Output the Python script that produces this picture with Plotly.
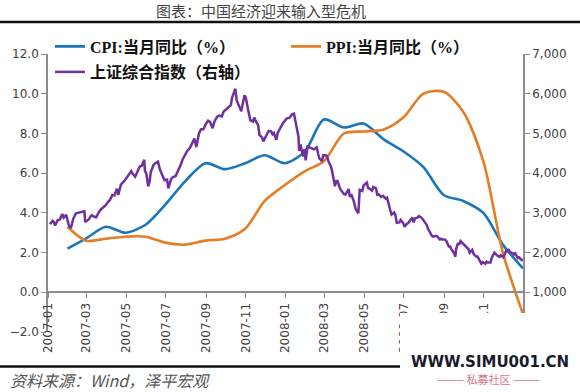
import plotly.graph_objects as go

# ---------------- data ----------------
months = ["2007-01-31","2007-02-28","2007-03-31","2007-04-30","2007-05-31","2007-06-30",
          "2007-07-31","2007-08-31","2007-09-30","2007-10-31","2007-11-30","2007-12-31",
          "2008-01-31","2008-02-29","2008-03-31","2008-04-30","2008-05-31","2008-06-30",
          "2008-07-31","2008-08-31","2008-09-30","2008-10-31","2008-11-30","2008-12-31"]
cpi = [2.2, 2.7, 3.3, 3.0, 3.4, 4.4, 5.6, 6.5, 6.2, 6.5, 6.9, 6.5,
       7.1, 8.7, 8.3, 8.5, 7.7, 7.1, 6.3, 4.9, 4.6, 4.0, 2.4, 1.2]
ppi = [3.3, 2.6, 2.7, 2.8, 2.8, 2.5, 2.4, 2.6, 2.7, 3.2, 4.6, 5.4,
       6.1, 6.6, 8.0, 8.1, 8.2, 8.8, 10.0, 10.1, 9.1, 6.6, 2.0, -1.1]

sh_dates = [
 "2007-01-04","2007-01-08","2007-01-10","2007-01-12","2007-01-16","2007-01-19","2007-01-23","2007-01-25",
 "2007-01-29","2007-01-31","2007-02-02","2007-02-05","2007-02-07","2007-02-09","2007-02-13","2007-02-16",
 "2007-02-26","2007-02-27","2007-03-01","2007-03-05","2007-03-07","2007-03-09","2007-03-13","2007-03-16",
 "2007-03-20","2007-03-23","2007-03-27","2007-03-30","2007-04-04","2007-04-06","2007-04-10","2007-04-13",
 "2007-04-17","2007-04-19","2007-04-23","2007-04-27","2007-04-30","2007-05-09","2007-05-11","2007-05-15",
 "2007-05-18","2007-05-22","2007-05-25","2007-05-29","2007-05-30","2007-06-01","2007-06-04","2007-06-06",
 "2007-06-08","2007-06-12","2007-06-15","2007-06-19","2007-06-22","2007-06-26","2007-06-29","2007-07-03",
 "2007-07-05","2007-07-09","2007-07-12","2007-07-16","2007-07-20","2007-07-24","2007-07-27","2007-07-31",
 "2007-08-03","2007-08-07","2007-08-10","2007-08-14","2007-08-17","2007-08-21","2007-08-24","2007-08-28",
 "2007-08-31","2007-09-04","2007-09-07","2007-09-11","2007-09-14","2007-09-18","2007-09-21","2007-09-25",
 "2007-09-28","2007-10-09","2007-10-11","2007-10-16","2007-10-18","2007-10-22","2007-10-25","2007-10-30",
 "2007-11-01","2007-11-05","2007-11-08","2007-11-12","2007-11-14","2007-11-16","2007-11-20","2007-11-22",
 "2007-11-26","2007-11-28","2007-11-30","2007-12-04","2007-12-06","2007-12-10","2007-12-12","2007-12-14",
 "2007-12-18","2007-12-20","2007-12-24","2007-12-26","2007-12-28",
 "2008-01-03","2008-01-07","2008-01-09","2008-01-11","2008-01-14","2008-01-16","2008-01-18","2008-01-21",
 "2008-01-22","2008-01-24","2008-01-28","2008-01-30","2008-02-01","2008-02-04","2008-02-14","2008-02-18",
 "2008-02-20","2008-02-22","2008-02-26","2008-02-28","2008-03-03","2008-03-05","2008-03-07","2008-03-11",
 "2008-03-13","2008-03-17","2008-03-19","2008-03-21","2008-03-25","2008-03-27","2008-03-31","2008-04-02",
 "2008-04-07","2008-04-09","2008-04-11","2008-04-15","2008-04-18","2008-04-22","2008-04-24","2008-04-28",
 "2008-04-30","2008-05-05","2008-05-07","2008-05-09","2008-05-13","2008-05-15","2008-05-19","2008-05-21",
 "2008-05-23","2008-05-27","2008-05-30","2008-06-03","2008-06-05","2008-06-10","2008-06-12","2008-06-16",
 "2008-06-18","2008-06-20","2008-06-24","2008-06-26","2008-06-30","2008-07-02","2008-07-04","2008-07-08",
 "2008-07-10","2008-07-14","2008-07-16","2008-07-18","2008-07-22","2008-07-24","2008-07-28","2008-07-30",
 "2008-08-01","2008-08-05","2008-08-07","2008-08-11","2008-08-13","2008-08-15","2008-08-19","2008-08-21",
 "2008-08-25","2008-08-27","2008-08-29","2008-09-02","2008-09-04","2008-09-08","2008-09-10","2008-09-12",
 "2008-09-16","2008-09-18","2008-09-19","2008-09-22","2008-09-24","2008-09-26","2008-10-08","2008-10-10",
 "2008-10-14","2008-10-16","2008-10-20","2008-10-22","2008-10-24","2008-10-28","2008-10-30","2008-11-03",
 "2008-11-05","2008-11-07","2008-11-11","2008-11-13","2008-11-17","2008-11-19","2008-11-21","2008-11-25",
 "2008-11-27","2008-12-01","2008-12-03","2008-12-05","2008-12-09","2008-12-11","2008-12-15","2008-12-17",
 "2008-12-19","2008-12-23","2008-12-25","2008-12-29","2008-12-31"]
sh_index = [
 2715, 2800, 2770, 2680, 2820, 2830, 2970, 2880,
 2950, 2790, 2680, 2612, 2750, 2860, 2990, 2998,
 3040, 2772, 2800, 2840, 2900, 2940, 2900, 2890,
 3010, 3080, 3140, 3180, 3290, 3320, 3450, 3440,
 3610, 3450, 3710, 3780, 3840, 4050, 3990, 3910,
 4030, 4170, 4180, 4335, 4050, 4000, 3670, 3770,
 4030, 4200, 4250, 4290, 4090, 3940, 3820, 3840,
 3615, 3850, 3900, 3920, 4060, 4210, 4350, 4470,
 4560, 4630, 4750, 4870, 4660, 5000, 5100, 5110,
 5220, 5320, 5290, 5130, 5310, 5420, 5450, 5430,
 5550, 5710, 5910, 6124, 5830, 5670, 5560, 5960,
 5900, 5560, 5330, 5300, 5400, 5320, 5210, 4960,
 4900, 4800, 4870, 5000, 5060, 5050, 4980, 5010,
 4840, 5010, 5150, 5220, 5260,
 5380, 5390, 5440, 5480, 5497, 5300, 5180, 4914,
 4560, 4720, 4420, 4600, 4320, 4670, 4600, 4650,
 4500, 4370, 4300, 4450, 4450, 4420, 4300, 4160,
 4020, 3670, 3800, 3800, 3600, 3560, 3470, 3460,
 3600, 3400, 3470, 3290, 3090, 2990, 3580, 3550,
 3690, 3761, 3630, 3610, 3560, 3650, 3620, 3460,
 3470, 3400, 3430, 3360, 3380, 3070, 2957, 3010,
 2940, 2748, 2760, 2820, 2740, 2650, 2700, 2750,
 2800, 2880, 2760, 2860, 2880, 2920, 2880, 2830,
 2770, 2700, 2600, 2470, 2420, 2400, 2420, 2410,
 2330, 2350, 2330, 2330, 2300, 2150, 2150, 2080,
 1990, 1895, 2075, 2240, 2200, 2290, 2090, 2000,
 2070, 1970, 1900, 1900, 1830, 1720, 1760, 1720,
 1770, 1750, 1750, 1870, 2000, 1960, 1930, 1890,
 1930, 1880, 1950, 2040, 2070, 2010, 1990, 1950,
 1980, 1860, 1880, 1810, 1820]

tick_dates = ["2007-01-01","2007-03-01","2007-05-01","2007-07-01","2007-09-01","2007-11-01",
              "2008-01-01","2008-03-01","2008-05-01","2008-07-01","2008-09-01","2008-11-01"]
tick_labels = ["2007-01","2007-03","2007-05","2007-07","2007-09","2007-11",
               "2008-01","2008-03","2008-05","2008-07","2008-09","2008-11"]
left_ticks = [-2, 0, 2, 4, 6, 8, 10, 12]
right_ticks = [1000, 2000, 3000, 4000, 5000, 6000, 7000]

title_text = "图表：中国经济迎来输入型危机"
source_text = "<i>资料来源：Wind，泽平宏观</i>"
name_cpi = "CPI:当月同比（%）"
name_ppi = "PPI:当月同比（%）"
name_sh = "上证综合指数（右轴）"

BLUE = "#1A76BC"
ORANGE = "#E57D24"
PURPLE = "#7030A0"
AXIS = "#8C8C8C"
TICKFONT = dict(family="DejaVu Sans, Verdana, sans-serif", size=12, color="#404040")
LEGFONT = dict(family="Liberation Serif, Noto Sans CJK SC, serif", size=16, color="#111111", weight="bold")

W, H = 580, 392
L, R, T, B = 48, 57, 54, 60
PW, PH = W - L - R, H - T - B


def px(xp):  # page x -> paper fraction
    return (xp - L) / PW


def py(yp):  # page y -> paper fraction
    return (H - B - yp) / PH


fig = go.Figure()
fig.add_trace(go.Scatter(x=months, y=cpi, name=name_cpi, mode="lines",
                         line=dict(color=BLUE, width=2.6, shape="spline", smoothing=0.8),
                         legend="legend"))
fig.add_trace(go.Scatter(x=months, y=ppi, name=name_ppi, mode="lines",
                         line=dict(color=ORANGE, width=2.6, shape="spline", smoothing=0.8),
                         legend="legend2"))
fig.add_trace(go.Scatter(x=sh_dates, y=sh_index, name=name_sh, mode="lines", yaxis="y2",
                         line=dict(color=PURPLE, width=2.5),
                         legend="legend3"))

leg_common = dict(orientation="h", xanchor="left", yanchor="middle",
                  font=LEGFONT, bgcolor="rgba(0,0,0,0)", itemwidth=30, borderwidth=0)

fig.update_layout(
    width=W, height=H,
    margin=dict(l=L, r=R, t=T, b=B, autoexpand=False),
    paper_bgcolor="white", plot_bgcolor="white",
    showlegend=True,
    xaxis=dict(type="date", range=["2007-01-01", "2008-12-31"],
               tickvals=tick_dates, ticktext=tick_labels, tickangle=-90,
               ticks="outside", ticklen=5, tickcolor=AXIS, tickwidth=1.3,
               showline=True, linecolor=AXIS, linewidth=1.6,
               showgrid=False, zeroline=False,
               anchor="free", position=2/14, tickfont=TICKFONT),
    yaxis=dict(range=[-2, 12], tickvals=left_ticks, tickformat=".1f",
               ticks="outside", ticklen=5, tickcolor=AXIS, tickwidth=1.3,
               showline=True, linecolor=AXIS, linewidth=1.6,
               showgrid=False, zeroline=False, tickfont=TICKFONT),
    yaxis2=dict(range=[0, 7000], tickvals=right_ticks, tickformat=",",
                overlaying="y", side="right",
                ticks="outside", ticklen=5, tickcolor=AXIS, tickwidth=1.3,
                showline=True, linecolor=AXIS, linewidth=1.6,
                showgrid=False, zeroline=False, tickfont=TICKFONT),
    legend=dict(leg_common, x=px(50), y=py(46.5)),
    legend2=dict(leg_common, x=px(286), y=py(46.5)),
    legend3=dict(leg_common, x=px(50), y=py(72)),
)

fig.add_annotation(text=title_text, xref="paper", yref="paper", x=px(261), y=py(10.5),
                   showarrow=False, xanchor="center", yanchor="middle",
                   font=dict(family="Noto Sans CJK SC", size=15, color="#444444"))

fig.add_shape(type="line", xref="paper", yref="paper", x0=px(0), x1=px(580),
              y0=py(22), y1=py(22), line=dict(color="#111111", width=2.5), layer="above")
fig.add_shape(type="line", xref="paper", yref="paper", x0=px(0), x1=px(580),
              y0=py(366.5), y1=py(366.5), line=dict(color="#111111", width=2.5), layer="above")
fig.add_shape(type="rect", xref="paper", yref="paper", x0=px(400), x1=px(580),
              y0=py(374), y1=py(313), line=dict(width=0), fillcolor="white", layer="above")

fig.add_annotation(text=source_text, xref="paper", yref="paper",
                   x=px(8), y=py(380), showarrow=False, xanchor="left", yanchor="middle",
                   font=dict(family="Noto Sans CJK SC", size=16, color="#555555"))
# watermark
fig.add_annotation(text="<b>WWW.SIMU001.CN</b>", xref="paper", yref="paper",
                   x=px(490), y=py(362), showarrow=False,
                   xanchor="center", yanchor="middle",
                   font=dict(family="DejaVu Sans", size=15, color="#1a1a2e"))
fig.add_annotation(text="——— 私募社区 ———", xref="paper", yref="paper",
                   x=px(488), y=py(379), showarrow=False,
                   xanchor="center", yanchor="middle",
                   font=dict(family="Noto Sans CJK SC", size=11, color="#D9738A"))

fig.write_html("out.html",
               config={"displayModeBar": False, "staticPlot": False},
               post_script="document.body.style.margin='0';document.body.style.overflow='hidden';")
